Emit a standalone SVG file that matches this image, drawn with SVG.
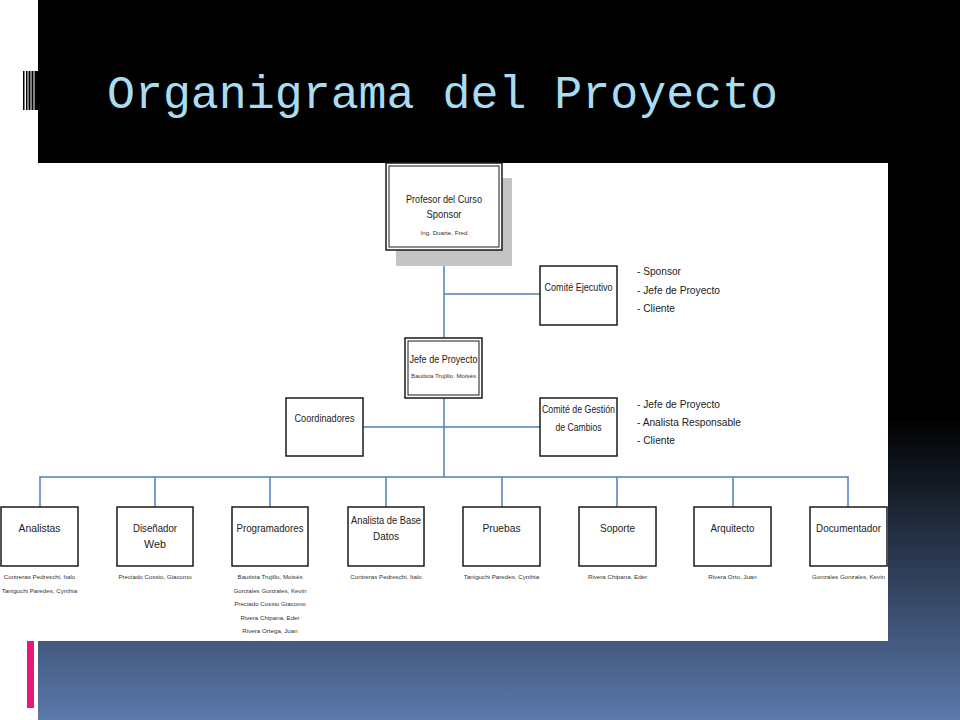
<svg xmlns="http://www.w3.org/2000/svg" width="960" height="720" viewBox="0 0 960 720">
<defs>
<linearGradient id="bg" x1="0" y1="0" x2="0" y2="720" gradientUnits="userSpaceOnUse">
<stop offset="0" stop-color="#000000"/>
<stop offset="0.58" stop-color="#000000"/>
<stop offset="1" stop-color="#5b79ab"/>
</linearGradient>
<style>
.box{fill:#ffffff;stroke:#1a1a1a;stroke-width:1.5}
.inner{fill:none;stroke:#1a1a1a;stroke-width:1}
.t{font-family:"Liberation Sans",Arial,sans-serif;font-size:11px;fill:#222222;text-anchor:middle}
.s{font-family:"Liberation Sans",Arial,sans-serif;font-size:6.2px;fill:#333333;text-anchor:middle}
.l{font-family:"Liberation Sans",Arial,sans-serif;font-size:11px;fill:#222222}
.c{fill:none;stroke:#4f7fc0;stroke-width:1.5}
</style>
</defs>
<rect x="0" y="0" width="960" height="720" fill="#ffffff"/>
<rect x="38" y="0" width="922" height="720" fill="url(#bg)"/>
<g id="barcode" fill="#000000">
<rect x="23" y="71" width="1.5" height="39"/>
<rect x="26" y="71" width="1.5" height="39"/>
<rect x="28.5" y="71" width="2" height="39"/>
<rect x="31.5" y="71" width="2" height="39"/>
<rect x="34.5" y="71" width="3.5" height="39"/>
</g>
<rect x="27" y="641" width="7" height="67" fill="#e8197a"/>
<text x="107" y="108" font-family="'Liberation Mono','DejaVu Sans Mono',monospace" font-size="46" fill="#a8dcf2" textLength="671" lengthAdjust="spacingAndGlyphs">Organigrama del Proyecto</text>
<rect x="0" y="163" width="888" height="478" fill="#ffffff"/>

<g id="connectors">
<line class="c" x1="444" y1="250" x2="444" y2="338"/>
<line class="c" x1="444" y1="294" x2="540" y2="294"/>
<line class="c" x1="444" y1="398" x2="444" y2="477"/>
<line class="c" x1="363" y1="427" x2="540" y2="427"/>
<line class="c" x1="39.25" y1="477" x2="848.75" y2="477"/>
<line class="c" x1="40" y1="477" x2="40" y2="507"/>
<line class="c" x1="155" y1="477" x2="155" y2="507"/>
<line class="c" x1="270" y1="477" x2="270" y2="507"/>
<line class="c" x1="386" y1="477" x2="386" y2="507"/>
<line class="c" x1="502" y1="477" x2="502" y2="507"/>
<line class="c" x1="617" y1="477" x2="617" y2="507"/>
<line class="c" x1="733" y1="477" x2="733" y2="507"/>
<line class="c" x1="848" y1="477" x2="848" y2="507"/>
</g>

<g id="profesor">
<rect x="396" y="178" width="116" height="88" fill="#c4c4c4"/>
<rect class="box" x="386" y="163" width="116" height="87"/>
<rect class="inner" x="389" y="166" width="110" height="81"/>
<text class="t" x="444" y="203" textLength="76" lengthAdjust="spacingAndGlyphs">Profesor del Curso</text>
<text class="t" x="444" y="218" textLength="35" lengthAdjust="spacingAndGlyphs">Sponsor</text>
<text class="s" x="444" y="235">Ing. Duarte, Fred</text>
</g>

<g id="comite-ejecutivo">
<rect class="box" x="540" y="266" width="77" height="59"/>
<text class="t" x="578.5" y="290.5" textLength="68" lengthAdjust="spacingAndGlyphs">Comité Ejecutivo</text>
<text class="l" x="637" y="275" textLength="44" lengthAdjust="spacingAndGlyphs">- Sponsor</text>
<text class="l" x="637" y="294" textLength="83" lengthAdjust="spacingAndGlyphs">- Jefe de Proyecto</text>
<text class="l" x="637" y="312" textLength="38" lengthAdjust="spacingAndGlyphs">- Cliente</text>
</g>

<g id="jefe">
<rect class="box" x="405" y="338" width="77" height="60"/>
<rect class="inner" x="408" y="341" width="71" height="54"/>
<text class="t" x="443.5" y="363" textLength="68" lengthAdjust="spacingAndGlyphs">Jefe de Proyecto</text>
<text class="s" x="443.5" y="378" font-size="5.6">Bautista Trujillo, Moisés</text>
</g>

<g id="coordinadores">
<rect class="box" x="286" y="398" width="77" height="58"/>
<text class="t" x="324.5" y="422" textLength="60" lengthAdjust="spacingAndGlyphs">Coordinadores</text>
</g>

<g id="comite-gestion">
<rect class="box" x="540" y="398" width="77" height="58"/>
<text class="t" x="578.5" y="413" textLength="73" lengthAdjust="spacingAndGlyphs">Comité de Gestión</text>
<text class="t" x="578.5" y="431" textLength="46" lengthAdjust="spacingAndGlyphs">de Cambios</text>
<text class="l" x="637" y="408" textLength="83" lengthAdjust="spacingAndGlyphs">- Jefe de Proyecto</text>
<text class="l" x="637" y="426" textLength="104" lengthAdjust="spacingAndGlyphs">- Analista Responsable</text>
<text class="l" x="637" y="444" textLength="38" lengthAdjust="spacingAndGlyphs">- Cliente</text>
</g>

<g id="analistas">
<rect class="box" x="1" y="507" width="77" height="59"/>
<text class="t" x="39.5" y="531.5" textLength="42" lengthAdjust="spacingAndGlyphs">Analistas</text>
<text class="s" x="39.5" y="579">Contreras Pedreschi, Italo</text>
<text class="s" x="39.5" y="592.5">Taniguchi Paredes, Cynthia</text>
</g>

<g id="disenador">
<rect class="box" x="117" y="507" width="76" height="59"/>
<text class="t" x="155" y="531.5" textLength="44" lengthAdjust="spacingAndGlyphs">Diseñador</text>
<text class="t" x="155" y="548" textLength="22" lengthAdjust="spacingAndGlyphs">Web</text>
<text class="s" x="155" y="579">Preciado Cossio, Giacomo</text>
</g>

<g id="programadores">
<rect class="box" x="232" y="507" width="76" height="59"/>
<text class="t" x="270" y="531.5" textLength="67" lengthAdjust="spacingAndGlyphs">Programadores</text>
<text class="s" x="270" y="579">Bautista Trujillo, Moisés</text>
<text class="s" x="270" y="592.5">Gonzales Gonzales, Kevin</text>
<text class="s" x="270" y="606">Preciado Cossio Giacomo</text>
<text class="s" x="270" y="619.5">Rivera Chipana, Eder</text>
<text class="s" x="270" y="633">Rivera Ortega, Juan</text>
</g>

<g id="analista-bd">
<rect class="box" x="348" y="507" width="76" height="59"/>
<text class="t" x="386" y="523.5" textLength="70" lengthAdjust="spacingAndGlyphs">Analista de Base</text>
<text class="t" x="386" y="540" textLength="26" lengthAdjust="spacingAndGlyphs">Datos</text>
<text class="s" x="386" y="579">Contreras Pedreschi, Italo</text>
</g>

<g id="pruebas">
<rect class="box" x="463" y="507" width="77" height="59"/>
<text class="t" x="501.5" y="531.5" textLength="38" lengthAdjust="spacingAndGlyphs">Pruebas</text>
<text class="s" x="501.5" y="579">Taniguchi Paredes, Cynthia</text>
</g>

<g id="soporte">
<rect class="box" x="579" y="507" width="77" height="59"/>
<text class="t" x="617.5" y="531.5" textLength="35" lengthAdjust="spacingAndGlyphs">Soporte</text>
<text class="s" x="617.5" y="579">Rivera Chipana, Eder</text>
</g>

<g id="arquitecto">
<rect class="box" x="694" y="507" width="77" height="59"/>
<text class="t" x="732.5" y="531.5" textLength="44" lengthAdjust="spacingAndGlyphs">Arquitecto</text>
<text class="s" x="732.5" y="579">Rivera Orto, Juan</text>
</g>

<g id="documentador">
<rect class="box" x="810" y="507" width="77" height="59"/>
<text class="t" x="848.5" y="531.5" textLength="65" lengthAdjust="spacingAndGlyphs">Documentador</text>
<text class="s" x="848.5" y="579">Gonzales Gonzales, Kevin</text>
</g>
</svg>
